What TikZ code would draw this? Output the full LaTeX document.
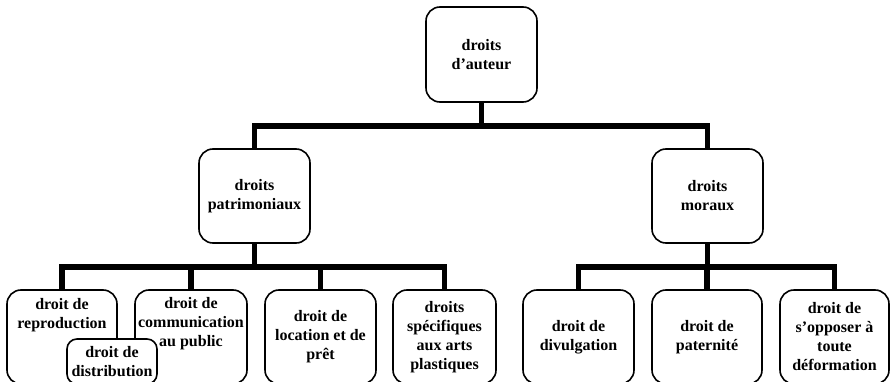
\documentclass[tikz,border=0pt]{standalone}
\usepackage{fontspec}
\setmainfont{Liberation Serif}
\tikzset{
  droit/.style={draw, line width=1.6pt, rounded corners=14pt, align=center,
    font=\bfseries\fontsize{16}{19}\selectfont, inner sep=1pt, minimum height=94pt},
  lien/.style={line width=5.5pt},
}

\begin{document}
\begin{tikzpicture}[x=1pt,y=-1pt]
\useasboundingbox (0,0) rectangle (890,382);
% niveau 1
\node[droit, minimum width=111pt, minimum height=95pt] (auteur) at (481.5,54.5) {droits\\d’auteur};
% niveau 2
\node[droit, minimum width=111pt] (patri) at (254.5,196) {droits\\patrimoniaux};
\node[droit, minimum width=111pt] (moraux) at (707.5,196) {droits\\moraux};
% niveau 3
\node[droit, minimum width=110pt, text depth=47pt] (repro) at (62,337) {droit de\\reproduction};
\node[droit, minimum width=112pt, text depth=30pt] (commun) at (191,337) {droit de\\communication\\au public};
\node[droit, minimum width=111pt] (loc) at (320.5,337) {droit de\\location et de\\prêt};
\node[droit, minimum width=103pt] (arts) at (444.5,337) {droits\\spécifiques\\aux arts\\plastiques};
\node[droit, minimum width=111pt] (divulg) at (578.5,337) {droit de\\divulgation};
\node[droit, minimum width=110pt] (patern) at (707,337) {droit de\\paternité};
\node[droit, minimum width=109pt] (oppose) at (834.5,337) {droit de\\s’opposer à\\toute\\déformation};
\node[droit, fill=white, rounded corners=10pt, minimum width=90pt, minimum height=45pt] (distrib) at (112,361.5) {droit de\\distribution};

\draw[lien] (auteur.south) -- ++(0,23) -| (patri.north);
\draw[lien] (auteur.south) -- ++(0,23) -| (moraux.north);

\draw[lien] (patri.south) -- ++(0,23) -| (repro.north);
\draw[lien] (patri.south) -- ++(0,23) -| (commun.north);
\draw[lien] (patri.south) -- ++(0,23) -| (loc.north);
\draw[lien] (patri.south) -- ++(0,23) -| (arts.north);

\draw[lien] (moraux.south) -- ++(0,23) -| (divulg.north);
\draw[lien] (moraux.south) -- ++(0,23) -| (patern.north);
\draw[lien] (moraux.south) -- ++(0,23) -| (oppose.north);
%\draw[lien] (repro) -- (distrib);
\end{tikzpicture}
\end{document}
